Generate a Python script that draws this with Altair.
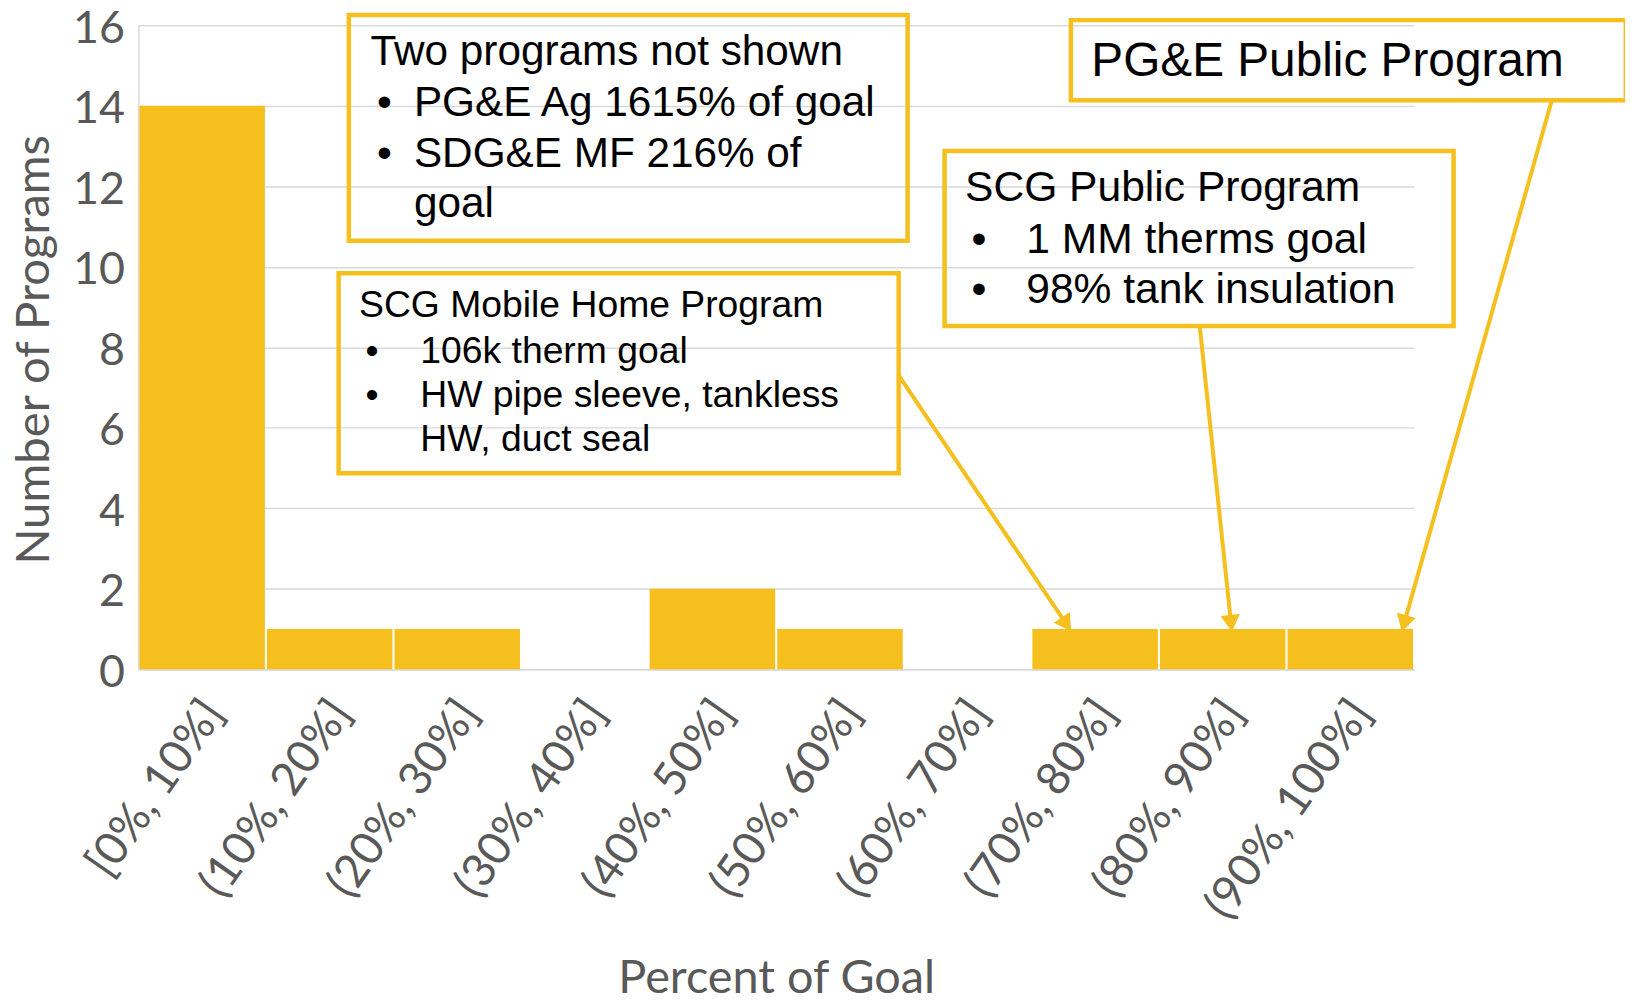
import math
import altair as alt
import pandas as pd

# ---------------- data ----------------
categories = ["[0%, 10%]", "(10%, 20%]", "(20%, 30%]", "(30%, 40%]", "(40%, 50%]",
              "(50%, 60%]", "(60%, 70%]", "(70%, 80%]", "(80%, 90%]", "(90%, 100%]"]
counts = [14, 1, 1, 0, 2, 1, 0, 1, 1, 1]
y_ticks = [0, 2, 4, 6, 8, 10, 12, 14, 16]
x_title = "Percent of Goal"
y_title = "Number of Programs"

note1_lines = ["Two programs not shown", "PG&E Ag 1615% of goal", "SDG&E MF 216% of", "goal"]
note1_bullets = [False, True, True, False]
note2_lines = ["SCG Mobile Home Program", "106k therm goal", "HW pipe sleeve, tankless", "HW, duct seal"]
note2_bullets = [False, True, True, False]
note3_lines = ["SCG Public Program", "1 MM therms goal", "98% tank insulation"]
note3_bullets = [False, True, True]
note4_lines = ["PG&E Public Program"]
note4_bullets = [False]

# ---------------- layout / style ----------------
W, H = 1282, 647
PX_X = W / 10.0     # pixels per bin
PX_Y = H / 16.0     # pixels per count unit
GOLD = "#F5BF1D"
GRID = "#D9D9D9"
AXIS_TXT = "#595959"

# annotation layout in data units (x: bin index 0-10, y: count 0-16)
notes = [
    dict(lines=note1_lines, bullets=note1_bullets, fs=42.5, box=(1.65, 6.03, 10.65, 16.26),
         x_first=1.82, x_bullet=1.87, x_text=2.16, ys=[15.33, 14.07, 12.81, 11.55]),
    dict(lines=note2_lines, bullets=note2_bullets, fs=37.5, box=(1.57, 5.96, 4.87, 9.84),
         x_first=1.73, x_bullet=1.78, x_text=2.21, ys=[9.03, 7.89, 6.80, 5.70]),
    dict(lines=note3_lines, bullets=note3_bullets, fs=42.8, box=(6.32, 10.31, 8.53, 12.88),
         x_first=6.48, x_bullet=6.53, x_text=6.96, ys=[11.96, 10.67, 9.43]),
    dict(lines=note4_lines, bullets=note4_bullets, fs=48, box=(7.31, 11.66, 14.14, 16.13),
         x_first=7.47, x_bullet=7.47, x_text=7.47, ys=[15.10]),
]
arrows = [  # (x_start, y_start, x_tip, y_tip)
    (5.96, 7.30, 7.30, 1.0),
    (8.32, 8.53, 8.57, 1.0),
    (11.08, 14.14, 9.91, 1.0),
]
HEAD_SIZE = 380

# ---------------- tables ----------------
bars_df = pd.DataFrame({"bin": categories, "count": counts})

box_rows, text_rows = [], []
for n in notes:
    x1, x2, y1, y2 = n["box"]
    box_rows.append(dict(x1=x1, x2=x2, y1=y1, y2=y2))
    for i, (line, b) in enumerate(zip(n["lines"], n["bullets"])):
        y = n["ys"][i]
        if i == 0:
            text_rows.append(dict(x=n["x_first"], y=y, text=line, fs=n["fs"]))
        else:
            if b:
                text_rows.append(dict(x=n["x_bullet"], y=y, text="\u2022", fs=n["fs"]))
            text_rows.append(dict(x=n["x_text"], y=y, text=line, fs=n["fs"]))
boxes_df = pd.DataFrame(box_rows)
texts_df = pd.DataFrame(text_rows)

rule_rows, head_rows = [], []
h = 0.433 * math.sqrt(HEAD_SIZE)
for (xs, ys, xt, yt) in arrows:
    dxp = (xt - xs) * PX_X
    dyp = -(yt - ys) * PX_Y
    L = math.hypot(dxp, dyp)
    ux, uy = dxp / L, dyp / L
    ang = math.degrees(math.atan2(ux, -uy)) % 360
    xc = xt - ux * h / PX_X
    yc = yt + uy * h / PX_Y
    rule_rows.append(dict(x=xs, y=ys, x2=xc, y2=yc))
    head_rows.append(dict(x=xc, y=yc, ang=ang))
rules_df = pd.DataFrame(rule_rows)
heads_df = pd.DataFrame(head_rows)

# ---------------- chart ----------------
def y_scale():
    return alt.Scale(domain=[0, 16], nice=False, zero=True)

def xq_scale():
    return alt.Scale(domain=[0, 10], nice=False, zero=False)

bars = alt.Chart(bars_df).mark_bar(color=GOLD).encode(
    x=alt.X("bin:N", sort=categories,
            scale=alt.Scale(domain=categories, paddingInner=0.016, paddingOuter=0.008),
            axis=alt.Axis(title=x_title, labelAngle=-55, labelAlign="right", labelBaseline="middle",
                          labelFont="Lato", labelFontSize=46, labelColor=AXIS_TXT, labelLimit=600,
                          labelPadding=36, labelOffset=12, ticks=False,
                          domain=True, domainColor=GRID, domainWidth=1.5,
                          titleFont="Lato", titleFontSize=47, titleColor=AXIS_TXT,
                          titleFontWeight="normal", titleBaseline="alphabetic",
                          titleX=W / 2, titleY=325, titleAlign="center")),
    y=alt.Y("count:Q", scale=y_scale(),
            axis=alt.Axis(values=y_ticks, title=y_title, grid=True, gridColor=GRID, gridWidth=1.5,
                          domain=True, domainColor=GRID, domainWidth=1.5, ticks=False,
                          labelFont="Lato", labelFontSize=45, labelColor=AXIS_TXT, labelPadding=14,
                          labelOffset=3,
                          titleFont="Lato", titleFontSize=47.5, titleColor=AXIS_TXT,
                          titleFontWeight="normal", titleAngle=-90, titleAlign="center",
                          titleBaseline="middle", titleX=-104, titleY=H / 2 + 2)),
)

boxes = alt.Chart(boxes_df).mark_rect(fillOpacity=0, stroke=GOLD, strokeWidth=4.5).encode(
    x=alt.X("x1:Q", scale=xq_scale(), axis=None), x2="x2:Q",
    y=alt.Y("y1:Q", scale=y_scale(), axis=None), y2="y2:Q",
)

rules = alt.Chart(rules_df).mark_rule(color=GOLD, strokeWidth=4).encode(
    x=alt.X("x:Q", scale=xq_scale(), axis=None), x2="x2:Q",
    y=alt.Y("y:Q", scale=y_scale(), axis=None), y2="y2:Q",
)

heads = alt.Chart(heads_df).mark_point(shape="triangle", filled=True, color=GOLD, opacity=1,
                                       size=HEAD_SIZE).encode(
    x=alt.X("x:Q", scale=xq_scale(), axis=None),
    y=alt.Y("y:Q", scale=y_scale(), axis=None),
    angle=alt.Angle("ang:Q", scale=None),
)

texts = alt.Chart(texts_df).mark_text(align="left", baseline="middle", font="Liberation Sans",
                                      color="black").encode(
    x=alt.X("x:Q", scale=xq_scale(), axis=None),
    y=alt.Y("y:Q", scale=y_scale(), axis=None),
    text="text:N",
    size=alt.Size("fs:Q", scale=None),
)

chart = alt.layer(bars, boxes, rules, heads, texts).resolve_scale(
    x="independent", y="independent"
).properties(
    width=W, height=H,
    autosize=alt.AutoSizeParams(type="none"),
    padding={"left": 131, "top": 15, "right": 1625 - 131 - W, "bottom": 328},
).configure_view(stroke=None)

chart.save("out.html", embed_options={"renderer": "svg", "actions": False})
